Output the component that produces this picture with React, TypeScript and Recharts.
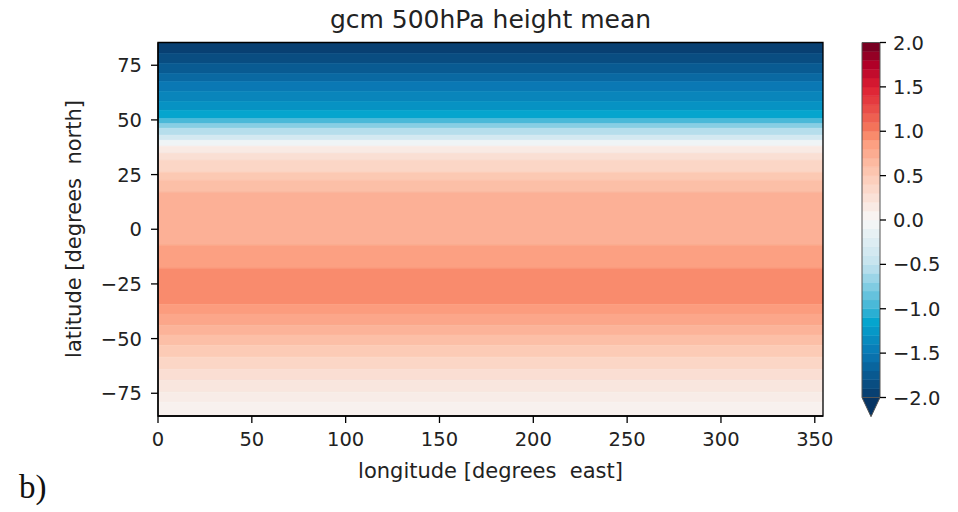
import React from 'react';
import { ComposedChart, XAxis, YAxis, ReferenceArea } from 'recharts';

// ---- data ----
const lonTicks = [0, 50, 100, 150, 200, 250, 300, 350];
const latTicks = [-75, -50, -25, 0, 25, 50, 75];
const cbarTicks = [-2, -1.5, -1, -0.5, 0, 0.5, 1, 1.5, 2];

const lonDomain = [0, 354.375];
const latDomain = [-85.4, 85.4];

// latitude bands (north edge, south edge) and the value shown in each band
const bandNorth = [85.4, 80.4, 75.9, 71.3, 67.6, 63.1, 58.5, 54.4, 50.7, 48.4, 46.2, 43.0, 40.7, 38.0, 34.7, 31.5, 26.1, 22.4, 16.9, -7.3, -17.8, -34.3, -38.8, -43.9, -48.4, -53.0, -58.5, -64.0, -69.0, -74.5, -79.1];
const bandSouth = [80.4, 75.9, 71.3, 67.6, 63.1, 58.5, 54.4, 50.7, 48.4, 46.2, 43.0, 40.7, 38.0, 34.7, 31.5, 26.1, 22.4, 16.9, -7.3, -17.8, -34.3, -38.8, -43.9, -48.4, -53.0, -58.5, -64.0, -69.0, -74.5, -79.1, -85.4];
const bandValue = [-1.95, -1.85, -1.73, -1.62, -1.5, -1.4, -1.3, -1.15, -0.95, -0.72, -0.55, -0.35, -0.08, 0.15, 0.27, 0.38, 0.52, 0.6, 0.72, 0.85, 0.95, 0.88, 0.8, 0.7, 0.6, 0.5, 0.38, 0.28, 0.19, 0.12, 0.07];

// colorbar levels (lower bounds, step 0.1)
const cbarLevels = [-2.0, -1.9, -1.8, -1.7, -1.6, -1.5, -1.4, -1.3, -1.2, -1.1, -1.0, -0.9, -0.8, -0.7, -0.6, -0.5, -0.4, -0.3, -0.2, -0.1, 0.0, 0.1, 0.2, 0.3, 0.4, 0.5, 0.6, 0.7, 0.8, 0.9, 1.0, 1.1, 1.2, 1.3, 1.4, 1.5, 1.6, 1.7, 1.8, 1.9];

// colormap anchors
const cmapStops = [-2, -1.5, -1.15, -1, -0.5, 0, 0.5, 0.9, 1, 1.5, 1.75, 2];
const cmapColors = ['#083a6b', '#0a78b4', '#05a5ce', '#3cb4d6', '#c3e3ee', '#f7f7f7', '#fccbb6', '#fc9a7b', '#f67c5e', '#dc1e32', '#b00028', '#6a0021'];
const underColor = '#063463';

const FONT = 'DejaVu Sans';

function hexToRgb(h: string) {
  return [parseInt(h.slice(1, 3), 16), parseInt(h.slice(3, 5), 16), parseInt(h.slice(5, 7), 16)];
}
function cmap(v: number) {
  if (v <= cmapStops[0]) return cmapColors[0];
  if (v >= cmapStops[cmapStops.length - 1]) return cmapColors[cmapColors.length - 1];
  let i = 0;
  while (i < cmapStops.length - 2 && v > cmapStops[i + 1]) i++;
  const t = (v - cmapStops[i]) / (cmapStops[i + 1] - cmapStops[i]);
  const a = hexToRgb(cmapColors[i]);
  const b = hexToRgb(cmapColors[i + 1]);
  const c = a.map((x, k) => Math.round(x + (b[k] - x) * t));
  return `rgb(${c[0]},${c[1]},${c[2]})`;
}

const fmtInt = (v: number) => (v < 0 ? '\u2212' + Math.abs(v) : String(v));
const fmtCb = (v: number) => (v < 0 ? '\u2212' : '') + Math.abs(v).toFixed(1);

const XTick = (props: any) => {
  const { x, y, payload } = props;
  return (
    <text x={x} y={y} dy="0.71em" textAnchor="middle" fontSize={19.5} fontFamily={FONT} fill="#222">
      {fmtInt(payload.value)}
    </text>
  );
};
const YTick = (props: any) => {
  const { x, y, payload } = props;
  return (
    <text x={x} y={y} dy="0.36em" textAnchor="end" fontSize={19.5} fontFamily={FONT} fill="#222">
      {fmtInt(payload.value)}
    </text>
  );
};
const CbTick = (props: any) => {
  const { x, y, payload } = props;
  return (
    <text x={x} y={y} dy="0.36em" textAnchor="start" fontSize={19.5} fontFamily={FONT} fill="#222">
      {fmtCb(payload.value)}
    </text>
  );
};

const Triangle = (props: any) => {
  const { x, y, width, height } = props;
  const top = Math.min(y, y + height);
  const h = Math.abs(height);
  return (
    <polygon
      points={`${x},${top} ${x + width},${top} ${x + width / 2},${top + h}`}
      fill={underColor}
      stroke="#555"
      strokeWidth={1}
    />
  );
};

export default function App() {
  return (
    <div style={{ position: 'absolute', left: 0, top: 0, width: 958, height: 512, background: '#fff' }}>
      <div style={{ position: 'absolute', left: 0, top: 0 }}>
        <ComposedChart width={958} height={512} margin={{ top: 42.5, right: 135, bottom: 36, left: 0 }}>
          <XAxis
            type="number"
            dataKey="lon"
            domain={lonDomain}
            ticks={lonTicks}
            allowDataOverflow
            height={60}
            tickSize={7}
            tickMargin={9}
            tick={XTick}
            axisLine={{ stroke: '#000', strokeWidth: 1.3 }}
            tickLine={{ stroke: '#000', strokeWidth: 1.3 }}
          />
          <YAxis
            type="number"
            dataKey="lat"
            domain={latDomain}
            ticks={latTicks}
            allowDataOverflow
            width={158}
            tickSize={7}
            tickMargin={9}
            tick={YTick}
            axisLine={{ stroke: '#000', strokeWidth: 1.3 }}
            tickLine={{ stroke: '#000', strokeWidth: 1.3 }}
          />
          {bandValue.map((v, i) => (
            <ReferenceArea
              key={'b' + i}
              x1={lonDomain[0]}
              x2={lonDomain[1]}
              y1={bandSouth[i]}
              y2={bandNorth[i]}
              fill={cmap(v)}
              fillOpacity={1}
              stroke={cmap(v)}
              strokeWidth={0.6}
              ifOverflow="hidden"
            />
          ))}
          <ReferenceArea
            x1={lonDomain[0]}
            x2={lonDomain[1]}
            y1={latDomain[0]}
            y2={latDomain[1]}
            fill="none"
            fillOpacity={0}
            stroke="#000"
            strokeWidth={1.3}
            ifOverflow="visible"
          />
        </ComposedChart>
      </div>

      <div style={{ position: 'absolute', left: 850, top: 0 }}>
        <ComposedChart width={100} height={512} margin={{ top: 42.5, right: 0, bottom: 114.5, left: 12 }}>
          <XAxis type="number" dataKey="c" domain={[0, 1]} hide allowDataOverflow />
          <YAxis
            type="number"
            dataKey="v"
            orientation="right"
            domain={[-2, 2]}
            ticks={cbarTicks}
            allowDataOverflow
            width={70}
            tickSize={6}
            tickMargin={7}
            tick={CbTick}
            axisLine={false}
            tickLine={{ stroke: '#000', strokeWidth: 1.3 }}
          />
          {cbarLevels.map((l, i) => (
            <ReferenceArea
              key={'c' + i}
              x1={0}
              x2={1}
              y1={l}
              y2={l + 0.1}
              fill={cmap(l + 0.05)}
              fillOpacity={1}
              stroke={cmap(l + 0.05)}
              strokeWidth={0.5}
              ifOverflow="hidden"
            />
          ))}
          <ReferenceArea x1={0} x2={1} y1={-2.216} y2={-2} shape={Triangle} ifOverflow="visible" />
          <ReferenceArea
            x1={0}
            x2={1}
            y1={-2}
            y2={2}
            fill="none"
            fillOpacity={0}
            stroke="#555"
            strokeWidth={1}
            ifOverflow="visible"
          />
        </ComposedChart>
      </div>

      <svg width={958} height={512} style={{ position: 'absolute', left: 0, top: 0, pointerEvents: 'none' }}>
        <text x={490.5} y={28} textAnchor="middle" fontSize={25} fontFamily={FONT} fill="#222">
          gcm 500hPa height mean
        </text>
        <text x={490.5} y={478} textAnchor="middle" fontSize={21} fontFamily={FONT} fill="#222">
          {'longitude [degrees\u00a0 east]'}
        </text>
        <text
          x={81}
          y={229}
          textAnchor="middle"
          fontSize={21}
          fontFamily={FONT}
          fill="#222"
          transform="rotate(-90 81 229)"
        >
          {'latitude [degrees\u00a0 north]'}
        </text>
        <text x={19} y={498} fontSize={33} fontFamily="Liberation Serif" fill="#111">
          b)
        </text>
      </svg>
    </div>
  );
}
